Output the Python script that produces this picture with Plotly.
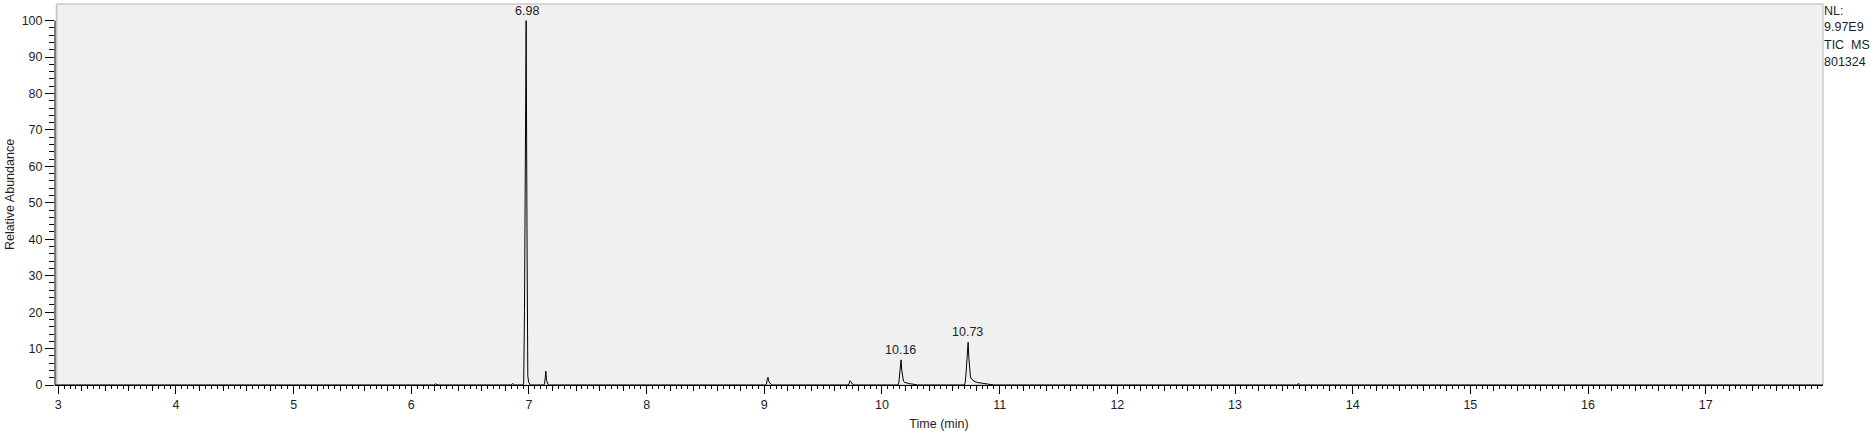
import plotly.graph_objects as go

# TIC chromatogram, scan points (time in min, relative abundance %)
time_min = [
    2.972, 6.190, 6.205, 6.215, 6.230,
    6.850, 6.860, 6.870, 6.880,
    6.950, 6.955, 6.962, 6.969, 6.976, 6.983, 6.990, 6.997, 7.004, 7.012,
    7.125, 7.132, 7.138, 7.143, 7.150, 7.157, 7.165,
    9.010, 9.018, 9.025, 9.031, 9.038, 9.046, 9.055, 9.065,
    9.715, 9.722, 9.728, 9.735, 9.742, 9.752, 9.765,
    10.135, 10.143, 10.150, 10.156, 10.162, 10.168, 10.175, 10.183, 10.195,
    10.210, 10.235, 10.260, 10.285, 10.300,
    10.700, 10.708, 10.715, 10.722, 10.728, 10.732, 10.738, 10.745, 10.752,
    10.762, 10.775, 10.790, 10.810, 10.840, 10.870, 10.900, 10.930, 10.950,
    13.525, 13.535, 13.545, 13.555, 17.997,
]
abundance = [
    0, 0, 0.3, 0.2, 0,
    0, 0.4, 0.2, 0,
    0, 0.3, 20.5, 89.2, 100, 43.2, 2.5, 0.8, 0.3, 0,
    0, 0.3, 2.0, 3.8, 1.2, 0.4, 0,
    0, 0.3, 1.5, 2.1, 1.0, 0.5, 0.2, 0,
    0, 0.5, 1.2, 0.9, 0.4, 0.15, 0,
    0, 0.6, 2.5, 5.6, 6.9, 4.0, 1.8, 1.0, 0.7,
    0.5, 0.35, 0.25, 0.1, 0,
    0, 0.8, 3.5, 8.5, 11.2, 11.7, 7.5, 3.8, 2.2,
    1.6, 1.2, 0.9, 0.7, 0.55, 0.45, 0.35, 0.2, 0,
    0, 0.3, 0.3, 0, 0,
]

# labelled peaks
peak_rt = [6.98, 10.16, 10.73]
peak_top = [100, 6.9, 11.7]

# header text at the top right
info_lines = ["NL:", "9.97E9", "TIC\u00a0 MS", "801324"]
info_offsets = [7, 23, 41, 58]  # px below the top of the panel

x_range = [2.972, 17.997]
y_range = [0, 104.58]

txt = "#1e1e1e"
font = dict(family="Liberation Sans, Arial, sans-serif", size=12.5, color=txt)

fig = go.Figure()
fig.add_trace(go.Scatter(x=time_min, y=abundance, mode="lines",
                         line=dict(color="black", width=1),
                         hoverinfo="skip", showlegend=False))
# empty trace so the 0.2-min tick axis gets drawn
fig.add_trace(go.Scatter(x=[], y=[], xaxis="x2", showlegend=False))

for rt, top in zip(peak_rt, peak_top):
    fig.add_annotation(x=rt, y=top, text=f"{rt:.2f}", showarrow=False,
                       yanchor="bottom", yshift=1, font=font)

for line, off in zip(info_lines, info_offsets):
    fig.add_annotation(xref="paper", yref="paper", x=1, y=1, xanchor="left", yanchor="middle",
                       xshift=-1, yshift=-off, align="left", showarrow=False,
                       text=line, font=font)

# panel border and the y axis line (only up to 100)
fig.add_shape(type="rect", xref="paper", yref="paper", x0=0.001, x1=1, y0=0, y1=1,
              line=dict(color="#b4b4b4", width=1), fillcolor="rgba(0,0,0,0)", layer="below")
fig.add_shape(type="line", xref="paper", yref="y", x0=0, x1=0, y0=0, y1=100,
              line=dict(color="black", width=1))

fig.update_layout(
    width=1875, height=437,
    margin=dict(l=55, r=52, t=4, b=52),
    paper_bgcolor="white", plot_bgcolor="#f0f0f0",
    font=font,
    xaxis=dict(range=x_range, showgrid=False, zeroline=False,
               showline=True, linecolor="black", linewidth=1,
               tickmode="linear", tick0=0, dtick=1,
               ticks="outside", ticklen=8, tickcolor="black", tickwidth=1,
               minor=dict(dtick=0.05, tick0=0, ticks="outside", ticklen=3,
                          tickcolor="black", showgrid=False),
               title=dict(text="Time (min)", font=font, standoff=8)),
    xaxis2=dict(range=x_range, overlaying="x", anchor="y", side="bottom",
                showgrid=False, zeroline=False, showline=False, showticklabels=False,
                tickmode="linear", tick0=0, dtick=0.2,
                ticks="outside", ticklen=5, tickcolor="black", tickwidth=1),
    yaxis=dict(range=y_range, showgrid=False, zeroline=False, showline=False,
               tickmode="array", tickvals=list(range(0, 101, 10)),
               ticks="outside", ticklen=9, tickcolor="black", tickwidth=1,
               minor=dict(tickmode="array", tickvals=list(range(0, 101, 2)),
                          ticks="outside", ticklen=5, tickcolor="black", showgrid=False),
               title=dict(text="Relative Abundance", font=font, standoff=4)),
)

# the page's default body margin would shift the figure by 8px
fig.write_html("out.html", config={"displayModeBar": False},
               post_script="document.body.style.margin='0';")
